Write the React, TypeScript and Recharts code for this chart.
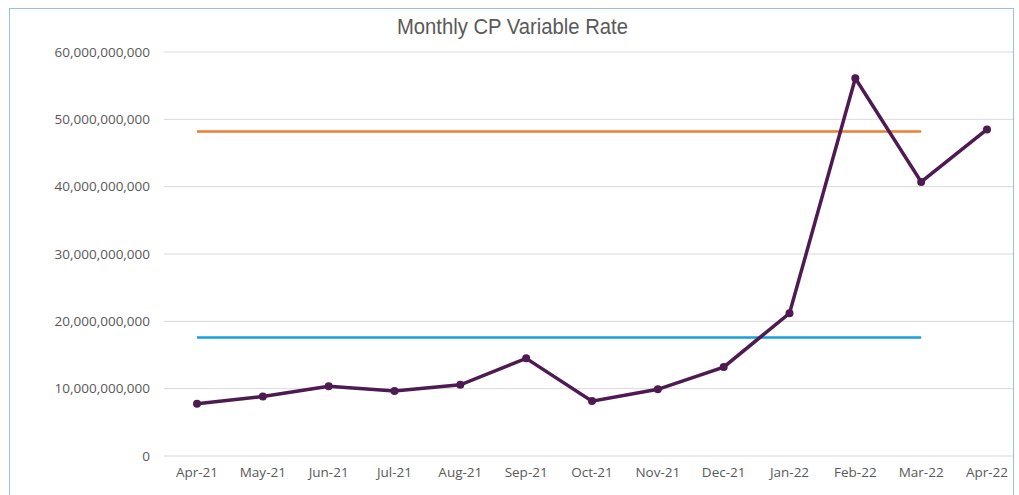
import React from "react";
import { LineChart, Line, XAxis, YAxis, CartesianGrid } from "recharts";

const months = ["Apr-21", "May-21", "Jun-21", "Jul-21", "Aug-21", "Sep-21", "Oct-21", "Nov-21", "Dec-21", "Jan-22", "Feb-22", "Mar-22", "Apr-22"];
const variableRate = [7.75e9, 8.85e9, 10.37e9, 9.65e9, 10.58e9, 14.5e9, 8.15e9, 9.9e9, 13.2e9, 21.2e9, 56.1e9, 40.7e9, 48.5e9];
const upperLimit = [48.2e9, 48.2e9, 48.2e9, 48.2e9, 48.2e9, 48.2e9, 48.2e9, 48.2e9, 48.2e9, 48.2e9, 48.2e9, 48.2e9, null];
const lowerLimit = [17.6e9, 17.6e9, 17.6e9, 17.6e9, 17.6e9, 17.6e9, 17.6e9, 17.6e9, 17.6e9, 17.6e9, 17.6e9, 17.6e9, null];
const yTicks = [0, 10e9, 20e9, 30e9, 40e9, 50e9, 60e9];

const data = months.map((m, i) => ({
  month: m,
  rate: variableRate[i],
  upper: upperLimit[i],
  lower: lowerLimit[i],
}));

const fmt = (v: number) => (v === 0 ? "0" : v.toLocaleString("en-US"));

const tickStyle = { fontSize: 13.5, fill: "#595959", fontFamily: "'Open Sans', sans-serif" };

export default function App() {
  return (
    <div
      style={{
        position: "absolute",
        left: 9,
        top: 8,
        width: 1003,
        height: 500,
        border: "1px solid #9dbfe0",
        overflow: "hidden",
        background: "#fff",
      }}
    >
      <div
        style={{
          position: "absolute",
          top: 5,
          left: 0,
          width: 1005,
          textAlign: "center",
          fontFamily: "'Liberation Sans', Arial, sans-serif",
          fontSize: 22,
          color: "#595959",
          transform: "scaleX(0.92)",
          zIndex: 2,
        }}
      >
        Monthly CP Variable Rate
      </div>
      <LineChart
        width={1012}
        height={486}
        data={data}
        margin={{ top: 43, right: 2, bottom: 9, left: 0 }}
      >
        <CartesianGrid vertical={false} stroke="#d9d9d9" strokeWidth={1} />
        <XAxis
          dataKey="month"
          axisLine={false}
          tickLine={false}
          tickSize={0}
          tickMargin={11}
          height={30}
          interval={0}
          padding={{ left: 33, right: 33 }}
          tick={tickStyle}
        />
        <YAxis
          domain={[0, 60e9]}
          ticks={yTicks}
          tickFormatter={fmt}
          axisLine={false}
          tickLine={false}
          tickSize={0}
          tickMargin={14}
          width={154}
          tick={tickStyle}
        />
        <Line
          dataKey="upper"
          stroke="#ed7d31"
          strokeWidth={2.5}
          dot={false}
          isAnimationActive={false}
        />
        <Line
          dataKey="lower"
          stroke="#14a0dc"
          strokeWidth={2.5}
          dot={false}
          isAnimationActive={false}
        />
        <Line
          dataKey="rate"
          stroke="#4e1a52"
          strokeWidth={3.5}
          dot={{ r: 4, fill: "#4e1a52", stroke: "#4e1a52", strokeWidth: 0 }}
          isAnimationActive={false}
        />
      </LineChart>
    </div>
  );
}
